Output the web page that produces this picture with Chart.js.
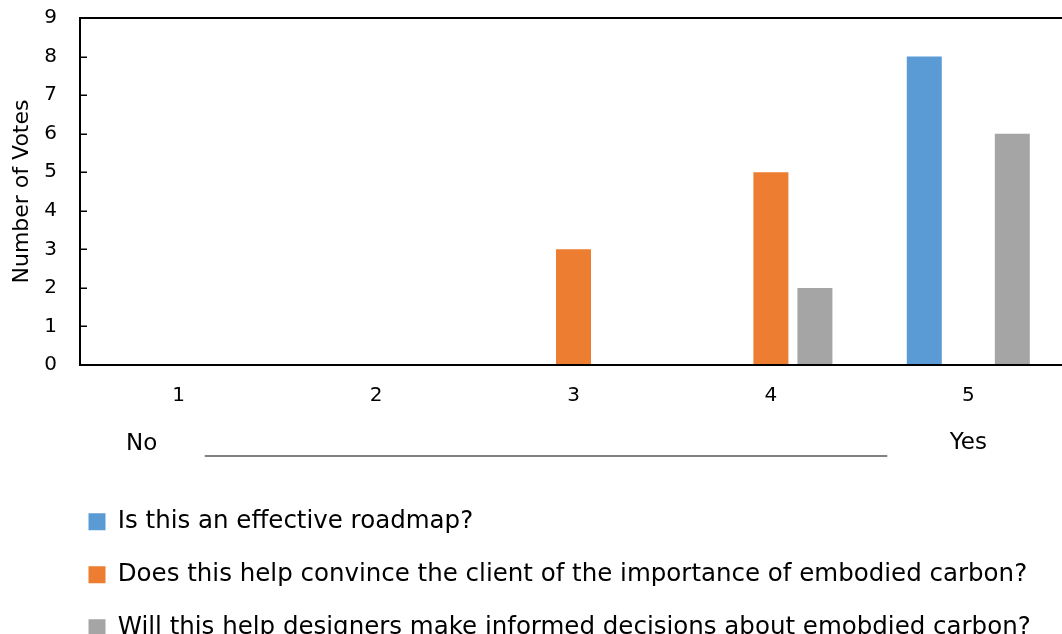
<!DOCTYPE html>
<html>
<head>
<meta charset="utf-8">
<script src="https://cdn.jsdelivr.net/npm/chart.js@4/dist/chart.umd.min.js"></script>
<style>
  html, body { margin: 0; padding: 0; background: #fff; overflow: hidden; }
  #frame { width: 1062px; height: 634px; overflow: hidden; position: relative; }
  canvas { display: block; }
</style>
</head>
<body>
<div id="frame"><canvas id="chart" width="1067" height="650"></canvas></div>
<script>
// Survey responses on a 1 (No) to 5 (Yes) scale
const categories = ['1', '2', '3', '4', '5'];
const seriesNames = [
  'Is this an effective roadmap?',
  'Does this help convince the client of the importance of embodied carbon?',
  'Will this help designers make informed decisions about emobdied carbon?'
];
const roadmapVotes   = [0, 0, 0, 0, 8];
const convinceVotes  = [0, 0, 3, 5, 0];
const designersVotes = [0, 0, 0, 2, 6];
const scaleEnds = ['No', 'Yes'];
const yTitle = 'Number of Votes';

const FONT = '"DejaVu Sans", Verdana, sans-serif';

// Draws the "No ——— Yes" scale guide under the category labels
const scaleGuide = {
  id: 'scaleGuide',
  afterDraw(chart) {
    const { ctx } = chart;
    const x = chart.scales.x;
    const first = x.getPixelForValue(0);
    const last = x.getPixelForValue(categories.length - 1);
    ctx.save();
    ctx.font = '23px ' + FONT;
    ctx.fillStyle = '#000';
    ctx.textAlign = 'center';
    ctx.textBaseline = 'middle';
    ctx.fillText(scaleEnds[0], first - 37, 444);
    ctx.fillText(scaleEnds[1], last, 443);
    ctx.strokeStyle = '#595959';
    ctx.lineWidth = 1.5;
    ctx.beginPath();
    ctx.moveTo(first + 26, 456);
    ctx.lineTo(last - 81, 456);
    ctx.stroke();
    ctx.restore();
  }
};

// Short tick marks pointing into the plot from the value axis
const innerTicks = {
  id: 'innerTicks',
  afterDatasetsDraw(chart) {
    const { ctx, chartArea } = chart;
    const y = chart.scales.y;
    ctx.save();
    ctx.strokeStyle = '#000';
    ctx.lineWidth = 1.5;
    ctx.beginPath();
    y.ticks.forEach((t) => {
      const py = Math.round(y.getPixelForValue(t.value)) + 0.25;
      ctx.moveTo(chartArea.left, py);
      ctx.lineTo(chartArea.left + 7, py);
    });
    ctx.stroke();
    ctx.restore();
  }
};

// Indents the stacked legend rows to sit under the plot
const legendIndent = {
  id: 'legendIndent',
  afterLayout(chart) {
    const lg = chart.legend;
    const shift = 60 - lg.left;
    lg.left += shift;
    lg.right += shift;
  }
};

new Chart(document.getElementById('chart'), {
  type: 'bar',
  data: {
    labels: categories,
    datasets: [
      { label: seriesNames[0], data: roadmapVotes,   backgroundColor: '#5B9BD5' },
      { label: seriesNames[1], data: convinceVotes,  backgroundColor: '#ED7D31' },
      { label: seriesNames[2], data: designersVotes, backgroundColor: '#A5A5A5' }
    ]
  },
  options: {
    responsive: false,
    animation: false,
    events: [],
    layout: { padding: { top: 18, right: 0, bottom: 0, left: 0 } },
    datasets: {
      bar: { categoryPercentage: 0.669, barPercentage: 0.795, borderWidth: 0 }
    },
    scales: {
      x: {
        grid: { display: false, drawTicks: false },
        border: { display: true, color: '#000', width: 2 },
        ticks: { color: '#000', font: { family: FONT, size: 20, lineHeight: 1 }, padding: 21 },
        afterFit(scale) { scale.height = 116; }
      },
      y: {
        min: 0,
        max: 9,
        ticks: { stepSize: 1, color: '#000', font: { family: FONT, size: 20, lineHeight: 1 }, padding: 7 },
        grid: {
          color: (c) => (c.tick && c.tick.value === 9 ? '#000' : 'rgba(0,0,0,0)'),
          lineWidth: 2,
          tickColor: 'rgba(0,0,0,0)',
          tickLength: 16
        },
        border: { display: true, color: '#000', width: 2 },
        title: {
          display: true,
          text: yTitle,
          color: '#000',
          font: { family: FONT, size: 22 },
          padding: { top: 9, bottom: 0 }
        },
        afterFit(scale) { scale.width = 80; }
      }
    },
    plugins: {
      legend: {
        position: 'bottom',
        align: 'start',
        labels: {
          boxWidth: 17,
          boxHeight: 17,
          padding: 28.5,
          color: '#000',
          font: { family: FONT, size: 24.5 }
        }
      },
      tooltip: { enabled: false }
    }
  },
  plugins: [scaleGuide, innerTicks, legendIndent]
});
</script>
</body>
</html>
